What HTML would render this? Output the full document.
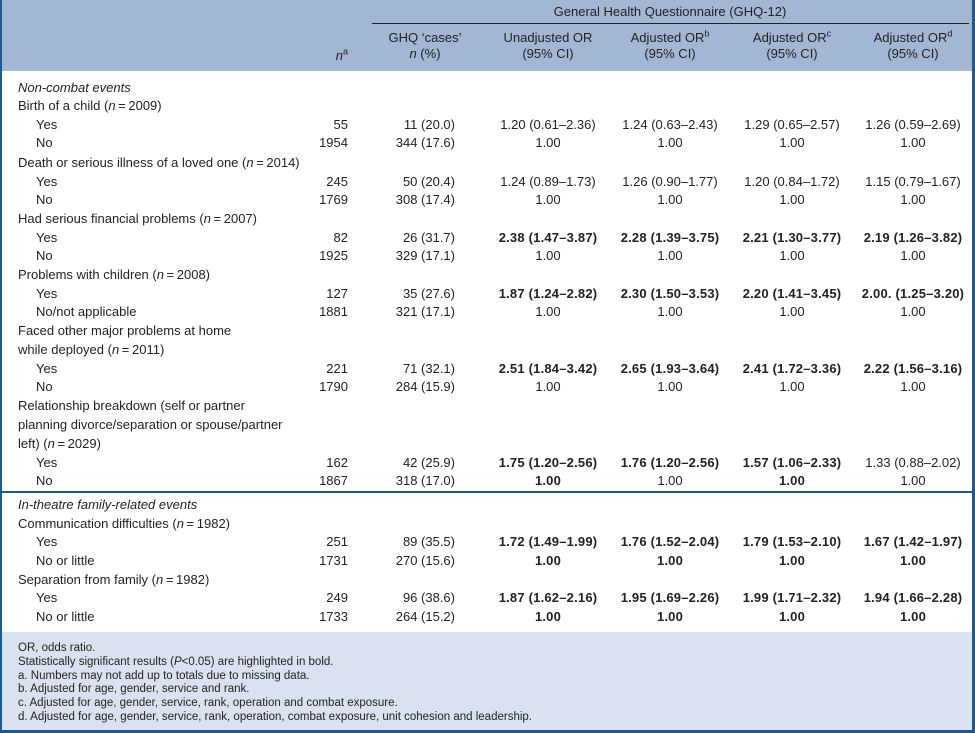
<!DOCTYPE html>
<html><head><meta charset="utf-8">
<style>
body{margin:0;width:975px;height:733px;position:relative;background:#fff;font-family:"Liberation Sans",sans-serif;font-size:13px;color:#222;overflow:hidden}
.t{position:absolute;white-space:nowrap;line-height:16px}
.c{transform:translateX(-50%)}
.r{transform:translateX(-100%)}
.b{font-weight:bold;letter-spacing:0.2px}
i{font-style:italic}
sup{font-size:9px;line-height:0}
</style></head><body>
<div style="position:absolute;left:0;top:0;width:975px;height:71px;background:#a3b6d4"></div>
<div style="position:absolute;left:0;top:632px;width:975px;height:101px;background:#dbe2ef"></div>
<div style="position:absolute;left:0;top:0;width:2px;height:733px;background:#1a5a96"></div>
<div style="position:absolute;left:972px;top:0;width:3px;height:733px;background:#1a5a96"></div>
<div style="position:absolute;left:0;top:730px;width:975px;height:3px;background:#1a5a96"></div>
<div style="position:absolute;left:0;top:491px;width:975px;height:2px;background:#1a5a96"></div>
<div style="position:absolute;left:372px;top:23px;width:597px;height:1px;background:#222"></div>
<div class="t c" style="left:670px;top:4px">General Health Questionnaire (GHQ-12)</div>
<div class="t r" style="left:348px;top:48px"><i>n</i><sup>a</sup></div>
<div class="t c" style="left:425px;top:30px;text-align:center">GHQ ‘cases’<br><i>n</i> (%)</div>
<div class="t c" style="left:548px;top:30px;text-align:center">Unadjusted OR<br>(95% CI)</div>
<div class="t c" style="left:670px;top:30px;text-align:center">Adjusted OR<sup>b</sup><br>(95% CI)</div>
<div class="t c" style="left:792px;top:30px;text-align:center">Adjusted OR<sup>c</sup><br>(95% CI)</div>
<div class="t c" style="left:913px;top:30px;text-align:center">Adjusted OR<sup>d</sup><br>(95% CI)</div>
<div id="body"></div>
<div class="t" style="left:18px;top:642px;font-size:11.5px;line-height:13.8px">OR, odds ratio.<br>Statistically significant results (<i>P</i>&lt;0.05) are highlighted in bold.<br>a. Numbers may not add up to totals due to missing data.<br>b. Adjusted for age, gender, service and rank.<br>c. Adjusted for age, gender, service, rank, operation and combat exposure.<br>d. Adjusted for age, gender, service, rank, operation, combat exposure, unit cohesion and leadership.</div>
<script>
// [y, label(html), indent, n, ghq, u, b, c, d, boldmask]
const rows=[
[88,'<i>Non-combat events</i>',0],
[106,'Birth of a child (<i>n</i>&#8201;=&#8201;2009)',0],
[125,'Yes',1,'55','11 (20.0)','1.20 (0.61–2.36)','1.24 (0.63–2.43)','1.29 (0.65–2.57)','1.26 (0.59–2.69)','0000'],
[143,'No',1,'1954','344 (17.6)','1.00','1.00','1.00','1.00','0000'],
[163,'Death or serious illness of a loved one (<i>n</i>&#8201;=&#8201;2014)',0],
[182,'Yes',1,'245','50 (20.4)','1.24 (0.89–1.73)','1.26 (0.90–1.77)','1.20 (0.84–1.72)','1.15 (0.79–1.67)','0000'],
[200,'No',1,'1769','308 (17.4)','1.00','1.00','1.00','1.00','0000'],
[219,'Had serious financial problems (<i>n</i>&#8201;=&#8201;2007)',0],
[238,'Yes',1,'82','26 (31.7)','2.38 (1.47–3.87)','2.28 (1.39–3.75)','2.21 (1.30–3.77)','2.19 (1.26–3.82)','1111'],
[256,'No',1,'1925','329 (17.1)','1.00','1.00','1.00','1.00','0000'],
[275,'Problems with children (<i>n</i>&#8201;=&#8201;2008)',0],
[294,'Yes',1,'127','35 (27.6)','1.87 (1.24–2.82)','2.30 (1.50–3.53)','2.20 (1.41–3.45)','2.00. (1.25–3.20)','1111'],
[312,'No/not applicable',1,'1881','321 (17.1)','1.00','1.00','1.00','1.00','0000'],
[331,'Faced other major problems at home',0],
[350,'while deployed (<i>n</i>&#8201;=&#8201;2011)',0],
[369,'Yes',1,'221','71 (32.1)','2.51 (1.84–3.42)','2.65 (1.93–3.64)','2.41 (1.72–3.36)','2.22 (1.56–3.16)','1111'],
[387,'No',1,'1790','284 (15.9)','1.00','1.00','1.00','1.00','0000'],
[406,'Relationship breakdown (self or partner',0],
[425,'planning divorce/separation or spouse/partner',0],
[444,'left) (<i>n</i>&#8201;=&#8201;2029)',0],
[463,'Yes',1,'162','42 (25.9)','1.75 (1.20–2.56)','1.76 (1.20–2.56)','1.57 (1.06–2.33)','1.33 (0.88–2.02)','1110'],
[481,'No',1,'1867','318 (17.0)','1.00','1.00','1.00','1.00','1010'],
[505,'<i>In-theatre family-related events</i>',0],
[524,'Communication difficulties (<i>n</i>&#8201;=&#8201;1982)',0],
[542,'Yes',1,'251','89 (35.5)','1.72 (1.49–1.99)','1.76 (1.52–2.04)','1.79 (1.53–2.10)','1.67 (1.42–1.97)','1111'],
[561,'No or little',1,'1731','270 (15.6)','1.00','1.00','1.00','1.00','1111'],
[580,'Separation from family (<i>n</i>&#8201;=&#8201;1982)',0],
[598,'Yes',1,'249','96 (38.6)','1.87 (1.62–2.16)','1.95 (1.69–2.26)','1.99 (1.71–2.32)','1.94 (1.66–2.28)','1111'],
[617,'No or little',1,'1733','264 (15.2)','1.00','1.00','1.00','1.00','1111']
];
const orX=[548,670,792,913];
const orNames=['unadjusted-or','adjusted-or-b','adjusted-or-c','adjusted-or-d'];
const body=document.getElementById('body');
function add(cls,html,x,y){const d=document.createElement('div');d.className='t '+cls;d.innerHTML=html;d.style.left=x+'px';d.style.top=(y-8)+'px';body.appendChild(d);return d;}
rows.forEach(r=>{
  const lab=add('',r[1],r[2]?36:18,r[0]);
  
  
  if(r.length>3){
    const n=add('r',r[3],348,r[0]);
    
    
    const g=add('r',r[4],455,r[0]);
    
    
    for(let k=0;k<4;k++){
      const o=add('c'+(r[9][k]==='1'?' b':''),r[5+k],orX[k],r[0]);
      
      
    }
  }
});
</script>
</body></html>
